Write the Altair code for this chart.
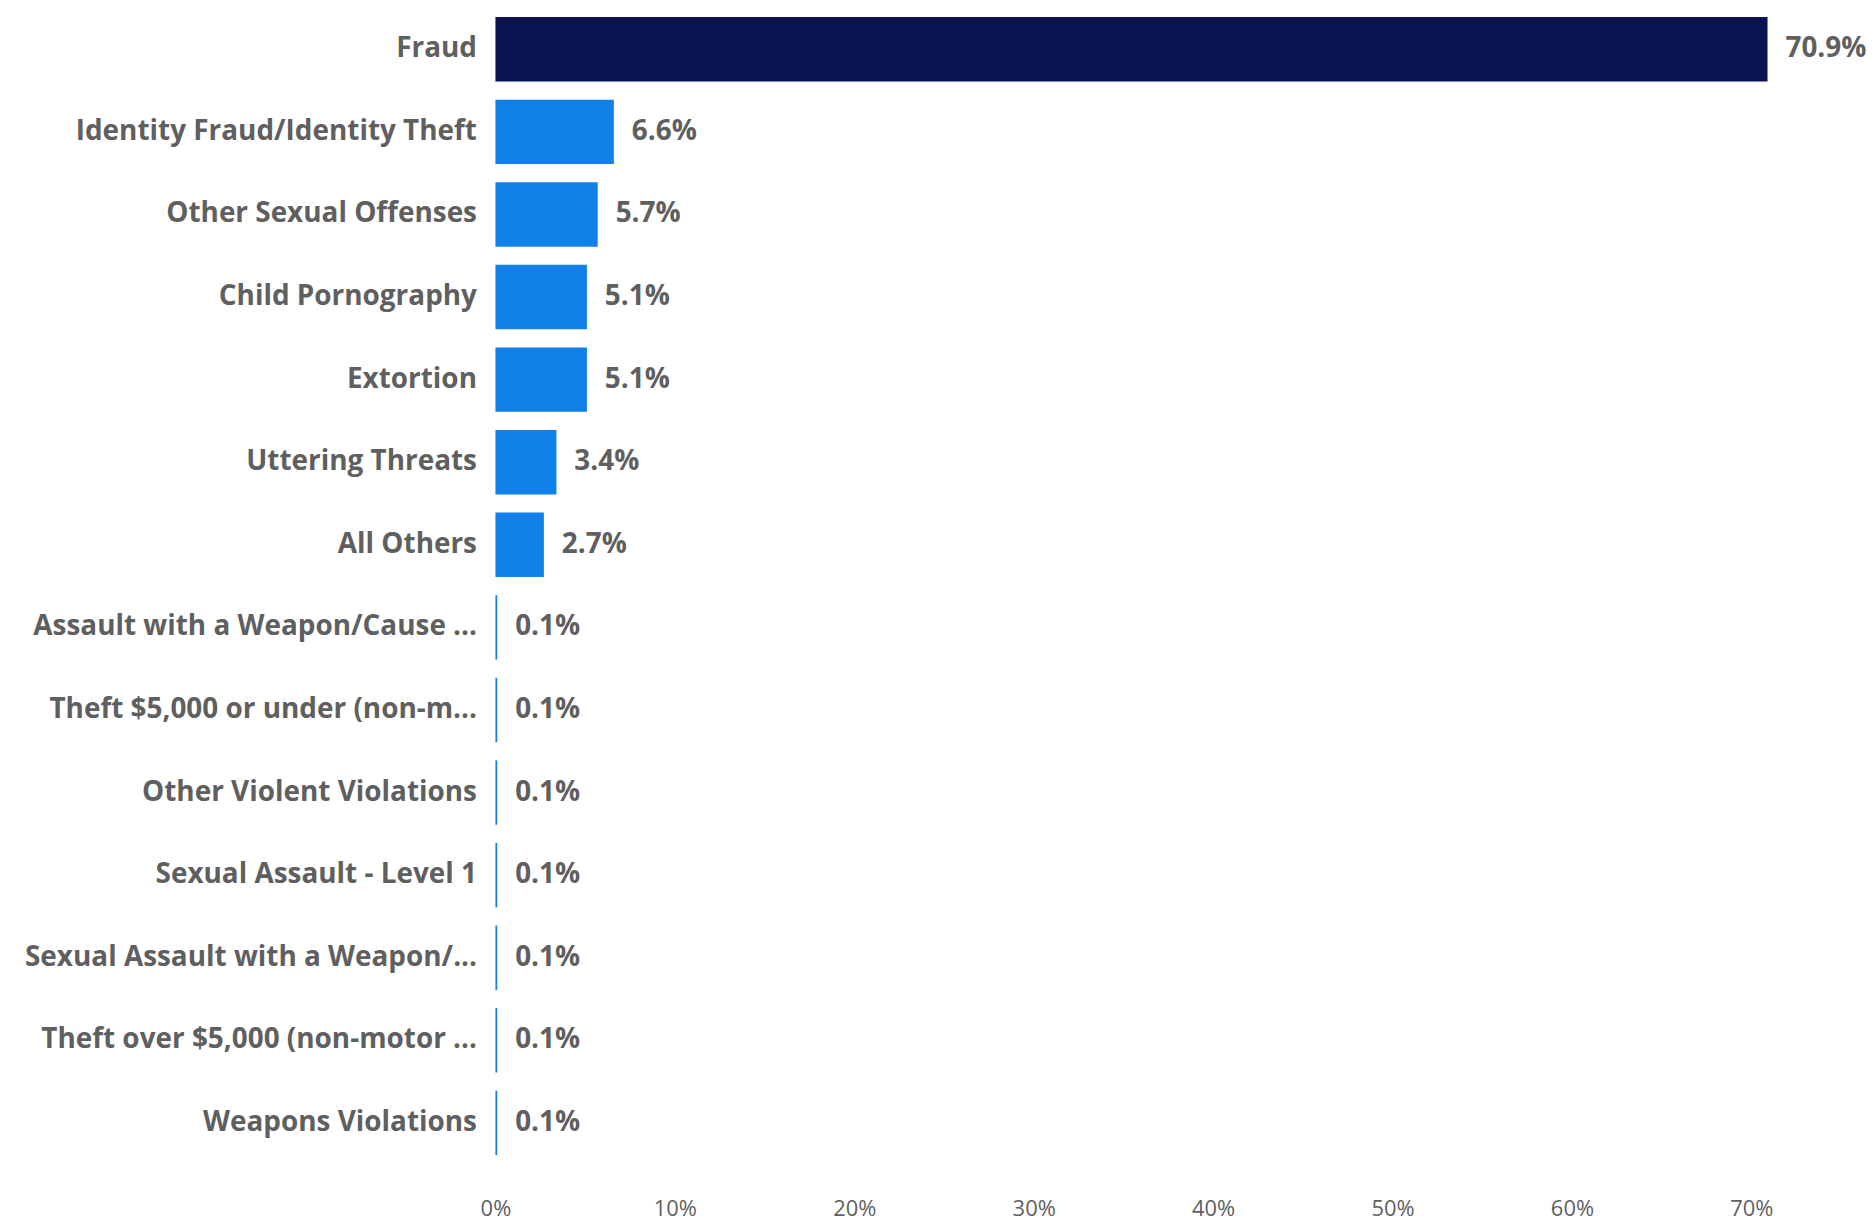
import altair as alt
import pandas as pd

categories = [
    "Fraud",
    "Identity Fraud/Identity Theft",
    "Other Sexual Offenses",
    "Child Pornography",
    "Extortion",
    "Uttering Threats",
    "All Others",
    "Assault with a Weapon/Cause ...",
    "Theft $5,000 or under (non-m...",
    "Other Violent Violations",
    "Sexual Assault - Level 1",
    "Sexual Assault with a Weapon/...",
    "Theft over $5,000 (non-motor ...",
    "Weapons Violations",
]
values = [70.9, 6.6, 5.7, 5.1, 5.1, 3.4, 2.7, 0.1, 0.1, 0.1, 0.1, 0.1, 0.1, 0.1]
highlight = ["top"] + ["rest"] * 13

df = pd.DataFrame({"cat": categories, "val": values, "grp": highlight})
df["label"] = df["val"].map(lambda v: f"{v:.1f}%")
df["frac"] = df["val"] / 100

FONT = "Open Sans"
GRAY = "#5f5f5f"

y = alt.Y("cat:N", sort=categories, title=None,
          scale=alt.Scale(paddingInner=0.22, paddingOuter=0.05),
          axis=alt.Axis(domain=False, ticks=False, labelFont=FONT, labelFontSize=28,
                        labelFontWeight="bold", labelColor=GRAY, labelPadding=19,
                        labelLimit=700))
x = alt.X("frac:Q", title=None,
          scale=alt.Scale(domain=[0, 0.72], nice=False),
          axis=alt.Axis(format=".0%", values=[0, 0.1, 0.2, 0.3, 0.4, 0.5, 0.6, 0.7],
                        grid=False, domain=False, ticks=False, labelFont=FONT,
                        labelFontSize=22, labelColor=GRAY, labelPadding=39,
                        labelFlush=False))

base = alt.Chart(df)
bars = base.mark_bar().encode(
    x=x, y=y,
    color=alt.Color("grp:N", scale=alt.Scale(domain=["top", "rest"], range=["#0b1350", "#1180e8"]),
                    legend=None),
)
text = base.mark_text(align="left", baseline="middle", dx=18, font=FONT, fontSize=28,
                      fontWeight="bold", color=GRAY).encode(
    x="frac:Q", y=alt.Y("cat:N", sort=categories), text="label:N")

chart = (bars + text).properties(
    width=1296, height=1150,
    padding={"top": 3, "left": 16, "right": 0, "bottom": 0},
).configure_view(stroke=None)
chart.save("out.html", embed_options={"renderer": "svg", "actions": False})
